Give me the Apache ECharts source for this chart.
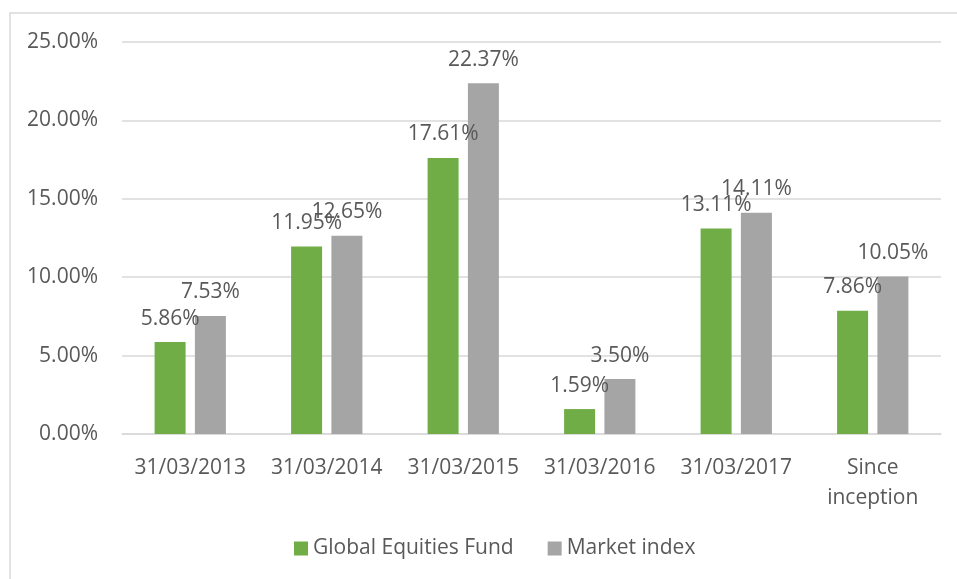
<!DOCTYPE html>
<html>
<head>
<meta charset="utf-8">
<script src="https://cdn.jsdelivr.net/npm/echarts@6/dist/echarts.min.js"></script>
<style>
  html, body { margin: 0; padding: 0; background: #fff; }
  #chart { width: 957px; height: 579px; }
</style>
</head>
<body>
<div id="chart"></div>
<script>
const categories = ['31/03/2013', '31/03/2014', '31/03/2015', '31/03/2016', '31/03/2017', 'Since\ninception'];
const fundValues = [5.86, 11.95, 17.61, 1.59, 13.11, 7.86];
const indexValues = [7.53, 12.65, 22.37, 3.50, 14.11, 10.05];

const textColor = '#595959';
const font = 'Open Sans';
const fontSize = 21;

const myChart = echarts.init(document.getElementById('chart'));

const labelStyle = {
    show: true,
    position: 'top',
    offset: [0, -8],
    color: textColor,
    fontFamily: font,
    fontSize: fontSize,
    formatter: function (p) { return p.value.toFixed(2) + '%'; }
};

myChart.setOption({
    animation: false,
    textStyle: { fontFamily: font },
    graphic: [{
        type: 'rect',
        shape: { x: 10, y: 13, width: 960, height: 600 },
        style: { fill: 'none', stroke: '#d9d9d9', lineWidth: 1.5 },
        silent: true
    }],
    grid: { left: 122, right: 16, top: 42, bottom: 145 },
    legend: {
        bottom: 15,
        left: 289,
        itemWidth: 14,
        itemHeight: 14,
        itemGap: 34,
        icon: 'rect',
        textStyle: { color: textColor, fontSize: fontSize, fontFamily: font }
    },
    xAxis: {
        type: 'category',
        data: categories,
        axisLine: { lineStyle: { color: '#d9d9d9', width: 1.5 } },
        axisTick: { show: false },
        axisLabel: { color: textColor, fontSize: fontSize, fontFamily: font, margin: 19, lineHeight: 30, interval: 0 }
    },
    yAxis: {
        type: 'value',
        min: 0,
        max: 25,
        interval: 5,
        axisLine: { show: false },
        axisTick: { show: false },
        splitLine: { lineStyle: { color: '#d9d9d9', width: 1.5 } },
        axisLabel: {
            color: textColor, fontSize: fontSize, fontFamily: font, margin: 24,
            formatter: function (v) { return v.toFixed(2) + '%'; }
        }
    },
    series: [
        {
            name: 'Global Equities Fund',
            type: 'bar',
            data: fundValues,
            barWidth: 31,
            barGap: '30%',
            itemStyle: { color: '#70ad47' },
            label: labelStyle
        },
        {
            name: 'Market index',
            type: 'bar',
            data: indexValues,
            barWidth: 31,
            barGap: '30%',
            itemStyle: { color: '#a5a5a5' },
            label: labelStyle
        }
    ]
});

window.addEventListener('resize', function () {
    myChart.resize();
});
</script>
</body>
</html>
